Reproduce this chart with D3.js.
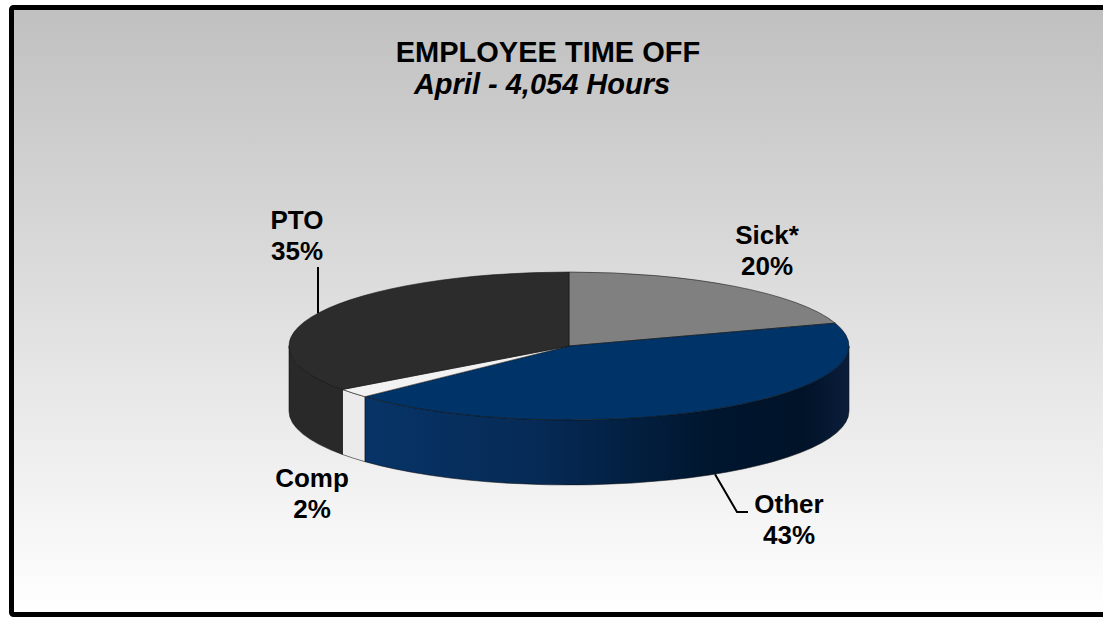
<!DOCTYPE html>
<html>
<head>
<meta charset="utf-8">
<script src="https://cdn.jsdelivr.net/npm/d3@7/dist/d3.min.js"></script>
<style>
  html, body { margin: 0; padding: 0; background: #ffffff; }
  svg { display: block; }
  text { font-family: "Liberation Sans", Arial, Helvetica, sans-serif; font-weight: bold; fill: #000; }
</style>
</head>
<body>
<svg id="chart" width="1103" height="617"></svg>
<script>
// ---- data ----
const categories = ["Sick*", "Other", "Comp", "PTO"];
const values = [20, 43, 2, 35];
const percentLabels = ["20%", "43%", "2%", "35%"];
const titleText = "EMPLOYEE TIME OFF";
const subtitleText = "April - 4,054 Hours";

// ---- layout / style (kept separate from data) ----
const W = 1103, H = 617;
const geo = { cx: 569, cy: 346, rx: 280, ry: 74, depth: 65 };
const topColors = { "Sick*": "#808080", "Other": "#003468", "Comp": "#f2f2f2", "PTO": "#2c2c2c" };
const sideColors = { "Sick*": "#6e6e6e", "Other": "url(#otherSide)", "Comp": "#ebebeb", "PTO": "#292929" };
const labelPos = {
  "PTO":   { x: 297, y: 229 },
  "Sick*": { x: 767, y: 244 },
  "Comp":  { x: 312, y: 487 },
  "Other": { x: 789, y: 513 }
};
const lineGap = 31;

const svg = d3.select("#chart");
const defs = svg.append("defs");

const bg = defs.append("linearGradient").attr("id", "bg")
  .attr("x1", 0).attr("y1", 0).attr("x2", 0).attr("y2", 1);
bg.append("stop").attr("offset", "0%").attr("stop-color", "#c0c0c0");
bg.append("stop").attr("offset", "45%").attr("stop-color", "#dcdcdc");
bg.append("stop").attr("offset", "100%").attr("stop-color", "#ffffff");

const og = defs.append("linearGradient").attr("id", "otherSide")
  .attr("gradientUnits", "userSpaceOnUse")
  .attr("x1", geo.cx - geo.rx).attr("y1", 0).attr("x2", geo.cx + geo.rx).attr("y2", 0);
[[0.13, "#073468"], [0.45, "#062a55"], [0.75, "#00162f"], [0.92, "#001329"], [1.0, "#0b1d3a"]]
  .forEach(([o, c]) => og.append("stop").attr("offset", o).attr("stop-color", c));

// background + frame
svg.append("rect").attr("x", 11.5).attr("y", 7.5).attr("width", 1100).attr("height", 607)
  .attr("rx", 2).attr("fill", "url(#bg)").attr("stroke", "#000").attr("stroke-width", 5);

// titles
svg.append("text").attr("x", 548).attr("y", 62).attr("text-anchor", "middle")
  .style("font-size", "29px").text(titleText);
svg.append("text").attr("x", 542).attr("y", 94).attr("text-anchor", "middle")
  .style("font-size", "29px").style("font-style", "italic").text(subtitleText);

// pie
const pie = d3.pie().sort(null).value(d => d.value).startAngle(0).endAngle(2 * Math.PI);
const arcs = pie(categories.map((c, i) => ({ name: c, value: values[i], pct: percentLabels[i] })));

const px = a => geo.cx + geo.rx * Math.sin(a);
const py = a => geo.cy - geo.ry * Math.cos(a);

function topPath(d) {
  const a0 = d.startAngle, a1 = d.endAngle;
  const large = (a1 - a0) > Math.PI ? 1 : 0;
  return `M${geo.cx},${geo.cy} L${px(a0)},${py(a0)} A${geo.rx},${geo.ry} 0 ${large} 1 ${px(a1)},${py(a1)} Z`;
}
function sidePath(d) {
  const a0 = Math.max(d.startAngle, Math.PI / 2);
  const a1 = Math.min(d.endAngle, 3 * Math.PI / 2);
  if (a1 <= a0) return null;
  const large = (a1 - a0) > Math.PI ? 1 : 0;
  const h = geo.depth;
  return `M${px(a0)},${py(a0)} A${geo.rx},${geo.ry} 0 ${large} 1 ${px(a1)},${py(a1)} ` +
         `L${px(a1)},${py(a1) + h} A${geo.rx},${geo.ry} 0 ${large} 0 ${px(a0)},${py(a0) + h} Z`;
}

const g = svg.append("g");
g.selectAll("path.side").data(arcs.filter(d => sidePath(d))).join("path")
  .attr("class", "side")
  .attr("d", sidePath)
  .attr("fill", d => sideColors[d.data.name])
  .attr("stroke", "#111").attr("stroke-width", 0.8).attr("stroke-opacity", 0.7);

g.selectAll("path.top").data(arcs).join("path")
  .attr("class", "top")
  .attr("d", topPath)
  .attr("fill", d => topColors[d.data.name])
  .attr("stroke", "#111").attr("stroke-width", 0.8).attr("stroke-opacity", 0.7);

// leader lines
const ptoArc = arcs.find(d => d.data.name === "PTO");
const otherArc = arcs.find(d => d.data.name === "Other");
// PTO: vertical line from label down to the top rim
const ptoX = 318;
const ptoA = -Math.asin((geo.cx - ptoX) / geo.rx);
svg.append("path")
  .attr("d", `M${ptoX},${267} L${ptoX},${py(ptoA)}`)
  .attr("stroke", "#000").attr("stroke-width", 2).attr("fill", "none");
// Other: from bottom rim down-right to label
const oX = 715;
const oA = Math.PI - Math.asin((oX - geo.cx) / geo.rx);
svg.append("path")
  .attr("d", `M${oX},${py(oA) + geo.depth} L${737},${512} L${748},${512}`)
  .attr("stroke", "#000").attr("stroke-width", 2).attr("fill", "none");

// labels
const lab = svg.append("g").selectAll("text").data(arcs).join("text")
  .attr("text-anchor", "middle")
  .attr("x", d => labelPos[d.data.name].x)
  .attr("y", d => labelPos[d.data.name].y)
  .style("font-size", "26px");
lab.append("tspan").attr("x", d => labelPos[d.data.name].x).text(d => d.data.name);
lab.append("tspan").attr("x", d => labelPos[d.data.name].x).attr("dy", lineGap).text(d => d.data.pct);
</script>
</body>
</html>
